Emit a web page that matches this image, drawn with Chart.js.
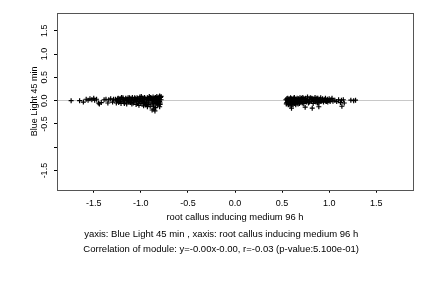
<!DOCTYPE html>
<html>
<head>
<meta charset="utf-8">
<script src="https://cdn.jsdelivr.net/npm/chart.js@4.4.1/dist/chart.umd.min.js"></script>
<style>
  html, body { margin: 0; padding: 0; background: #fff; }
  #grafico { display: block; }
</style>
</head>
<body>
<canvas id="grafico" width="432" height="288"></canvas>
<script>
// Puntos: grupo izquierdo (x negativo)
const grupoIzquierdo = [
  [-1.74, 0.00], [-1.65, 0.00], [-1.61, -0.03], [-1.58, 0.03], [-1.56, 0.01],
  [-1.54, 0.04], [-1.52, 0.02], [-1.50, 0.05], [-1.49, 0.01], [-1.47, 0.03],
  [-1.45, -0.05], [-1.44, -0.07], [-1.42, -0.04], [-1.39, 0.02], [-1.37, 0.03],
  [-1.35, -0.05], [-1.34, 0.02], [-1.32, 0.04], [-1.30, -0.03], [-1.29, 0.03],
  [-1.27, 0.03], [-1.26, -0.05], [-1.25, 0.01], [-1.24, 0.05], [-1.23, -0.02],
  [-1.22, 0.04], [-1.21, -0.06], [-1.20, 0.02], [-1.19, 0.06], [-1.18, -0.03],
  [-1.17, 0.01], [-1.16, 0.05], [-1.15, -0.07], [-1.14, 0.03], [-1.13, -0.01],
  [-1.12, 0.06], [-1.11, -0.04], [-1.10, 0.02], [-1.09, 0.07], [-1.08, -0.05],
  [-1.07, 0.01], [-1.06, 0.04], [-1.05, -0.08], [-1.04, 0.06], [-1.03, -0.02],
  [-1.02, 0.03], [-1.01, 0.08], [-1.00, -0.06], [-0.99, 0.01], [-0.98, 0.05],
  [-0.97, -0.03], [-0.96, 0.07], [-0.95, -0.09], [-0.94, 0.02], [-0.93, 0.06],
  [-0.92, -0.05], [-0.91, 0.09], [-0.90, -0.12], [-0.89, 0.03], [-0.88, -0.07],
  [-0.87, 0.08], [-0.86, -0.18], [-0.85, 0.01], [-0.84, -0.04], [-0.83, 0.09],
  [-0.82, -0.09], [-0.81, 0.05], [-0.80, -0.02], [-0.79, 0.07],
  [-1.255, 0.00], [-1.235, -0.04], [-1.205, 0.07], [-1.175, -0.06], [-1.145, 0.00],
  [-1.125, -0.03], [-1.095, -0.07], [-1.065, 0.06], [-1.045, -0.01], [-1.025, -0.06],
  [-0.995, 0.09], [-0.975, -0.07], [-0.955, 0.04], [-0.935, -0.03], [-0.915, -0.08],
  [-0.895, 0.06], [-0.875, -0.03], [-0.865, -0.12], [-0.855, 0.05], [-0.845, -0.15],
  [-0.835, -0.01], [-0.825, 0.04], [-0.815, -0.06], [-0.805, 0.08], [-0.795, -0.05],
  [-0.785, 0.02],
  [-1.245, 0.04], [-1.215, -0.01], [-1.185, 0.03], [-1.155, 0.03], [-1.135, 0.06],
  [-1.105, 0.04], [-1.085, 0.01], [-1.075, -0.03], [-1.055, 0.03], [-1.035, 0.04],
  [-1.015, -0.02], [-1.005, 0.04], [-0.985, -0.01], [-0.965, 0.02], [-0.945, -0.05],
  [-0.925, 0.03], [-0.905, 0.01], [-0.885, 0.05], [-0.865, 0.02], [-0.845, 0.07],
  [-0.825, -0.03], [-0.815, 0.01], [-0.805, 0.03], [-0.795, -0.08], [-0.785, 0.09],
  [-0.96, -0.05], [-0.94, -0.08], [-0.92, 0.04], [-0.90, 0.07], [-0.88, 0.00],
  [-0.86, -0.06], [-0.84, 0.04], [-0.82, 0.02], [-0.80, 0.10], [-0.83, -0.07],
  [-0.93, -0.13], [-0.88, -0.20], [-0.85, -0.22], [-0.97, -0.11], [-1.02, -0.10], [-0.80, -0.13]
];

// Puntos: grupo derecho (x positivo)
const grupoDerecho = [
  [0.54, 0.02], [0.55, -0.04], [0.56, 0.05], [0.57, -0.08], [0.58, 0.01],
  [0.59, 0.06], [0.60, -0.06], [0.61, 0.03], [0.62, -0.02], [0.63, 0.07],
  [0.64, -0.05], [0.65, 0.02], [0.66, 0.05], [0.67, -0.07], [0.68, 0.00],
  [0.69, 0.06], [0.70, -0.04], [0.71, 0.03], [0.72, 0.07], [0.73, -0.06],
  [0.74, 0.01], [0.75, 0.05], [0.76, -0.03], [0.77, 0.08], [0.78, -0.05],
  [0.79, 0.02], [0.80, 0.06], [0.81, -0.02], [0.82, 0.04], [0.83, -0.06],
  [0.84, 0.03], [0.85, 0.07], [0.86, -0.03], [0.87, 0.02], [0.88, 0.05],
  [0.89, -0.04], [0.90, 0.03], [0.91, 0.06], [0.92, -0.01], [0.93, 0.04],
  [0.94, -0.03], [0.95, 0.02], [0.96, 0.05], [0.97, -0.02], [0.98, 0.03],
  [0.99, 0.01], [1.00, 0.04], [1.01, -0.02], [1.02, 0.02], [1.03, 0.05], [1.04, -0.01],
  [0.545, -0.07], [0.555, 0.00], [0.565, -0.09], [0.575, 0.04], [0.585, -0.05],
  [0.595, -0.11], [0.605, 0.01], [0.615, -0.08], [0.625, 0.05], [0.635, -0.03],
  [0.645, -0.09], [0.655, -0.01], [0.675, 0.04], [0.685, -0.06], [0.705, 0.05],
  [0.715, -0.05], [0.735, 0.03], [0.765, 0.02], [0.785, -0.01], [0.815, 0.05],
  [0.835, 0.00], [0.855, 0.02], [0.875, -0.05], [0.905, -0.02], [0.935, 0.01],
  [0.965, -0.01], [0.985, -0.03],
  [0.55, 0.04], [0.56, -0.02], [0.57, 0.02], [0.58, -0.03], [0.59, 0.00],
  [0.60, 0.04], [0.61, -0.04], [0.62, 0.01], [0.63, -0.06], [0.64, 0.03],
  [0.66, -0.04], [0.67, 0.02], [0.69, -0.02], [0.70, 0.02], [0.72, -0.02],
  [0.73, 0.04], [0.75, -0.02], [0.77, 0.01], [0.79, -0.03], [0.81, 0.02],
  [0.83, 0.03], [0.85, -0.01], [0.87, 0.05], [0.89, 0.01], [0.91, 0.02],
  [0.60, -0.16], [0.745, -0.14], [0.82, -0.16], [0.89, -0.13], [1.135, -0.12],
  [1.06, 0.01], [1.08, -0.02], [1.10, 0.02], [1.12, -0.04], [1.13, 0.01],
  [1.15, 0.02], [1.16, -0.05], [1.23, 0.01], [1.26, 0.00], [1.28, 0.01]
];

// Marcas de los ejes
const xTicks = [-1.5, -1.0, -0.5, 0.0, 0.5, 1.0, 1.5];
const xTickLabels = ['-1.5', '-1.0', '-0.5', '0.0', '0.5', '1.0', '1.5'];
const yTicks = [-1.5, -1.0, -0.5, 0.0, 0.5, 1.0, 1.5];
const yTickLabels = ['-1.5', '', '-0.5', '0.0', '0.5', '1.0', '1.5'];
const xRango = [-1.89, 1.89];
const yRango = [-1.91, 1.88];

// Textos
const tituloX = 'root callus inducing medium 96 h';
const tituloY = 'Blue Light 45 min';
const leyendas = [
  'yaxis: Blue Light 45 min , xaxis: root callus inducing medium 96 h',
  'Correlation of module: y=-0.00x-0.00, r=-0.03 (p-value:5.100e-01)'
];

const fuente = "'Liberation Sans', Arial, Helvetica, sans-serif";

// Convierte pares [x, y] al formato de Chart.js
function aPuntos(pares) {
  return pares.map(p => ({ x: p[0], y: p[1] }));
}

// Dibuja el marco completo alrededor del área del gráfico
const marco = {
  id: 'marco',
  afterDraw(chart) {
    const { ctx, chartArea: a } = chart;
    ctx.save();
    ctx.strokeStyle = '#555';
    ctx.lineWidth = 1;
    ctx.strokeRect(Math.round(a.left) + 0.5, Math.round(a.top) + 0.5,
      Math.round(a.right - a.left), Math.round(a.bottom - a.top));
    ctx.restore();
  }
};

const estiloPunto = {
  pointStyle: 'cross',
  pointRadius: 2.5,
  pointHoverRadius: 2.5,
  borderColor: '#000',
  backgroundColor: '#000',
  borderWidth: 1.2
};

new Chart(document.getElementById('grafico'), {
  type: 'scatter',
  data: {
    datasets: [
      Object.assign({ label: 'izquierdo', data: aPuntos(grupoIzquierdo) }, estiloPunto),
      Object.assign({ label: 'derecho', data: aPuntos(grupoDerecho) }, estiloPunto)
    ]
  },
  options: {
    responsive: false,
    animation: false,
    devicePixelRatio: 1,
    layout: { padding: { left: 29.4, right: 19, top: 13, bottom: 31 } },
    scales: {
      x: {
        type: 'linear',
        min: xRango[0],
        max: xRango[1],
        afterBuildTicks: (eje) => { eje.ticks = xTicks.map(v => ({ value: v })); },
        ticks: {
          color: '#000',
          padding: 5.5,
          maxRotation: 0,
          font: { family: fuente, size: 9 },
          callback: (valor, i) => xTickLabels[i]
        },
        grid: { drawOnChartArea: false, tickLength: 3, tickColor: '#000', color: '#000' },
        border: { display: false },
        title: {
          display: true,
          text: tituloX,
          color: '#000',
          font: { family: fuente, size: 9.4, lineHeight: 0.6 },
          padding: { top: 0, bottom: 0 }
        }
      },
      y: {
        type: 'linear',
        min: yRango[0],
        max: yRango[1],
        afterBuildTicks: (eje) => { eje.ticks = yTicks.map(v => ({ value: v })); },
        ticks: {
          color: '#000',
          padding: 1.5,
          minRotation: 90,
          maxRotation: 90,
          crossAlign: 'center',
          font: { family: fuente, size: 9 },
          callback: (valor, i) => yTickLabels[i]
        },
        grid: {
          tickLength: 3,
          tickColor: '#000',
          color: (c) => (c.tick && c.tick.value === 0 ? '#c8c8c8' : 'rgba(0,0,0,0)')
        },
        border: { display: false },
        title: {
          display: true,
          text: tituloY,
          color: '#000',
          font: { family: fuente, size: 9 },
          padding: { top: 0, bottom: 0 }
        }
      }
    },
    plugins: {
      legend: { display: false },
      tooltip: { enabled: false },
      title: {
        display: true,
        position: 'bottom',
        text: leyendas,
        color: '#000',
        font: { family: fuente, size: 9.5, weight: 'normal', lineHeight: 1.58 },
        padding: { top: 6.8, bottom: 0 }
      }
    }
  },
  plugins: [marco]
});
</script>
</body>
</html>
